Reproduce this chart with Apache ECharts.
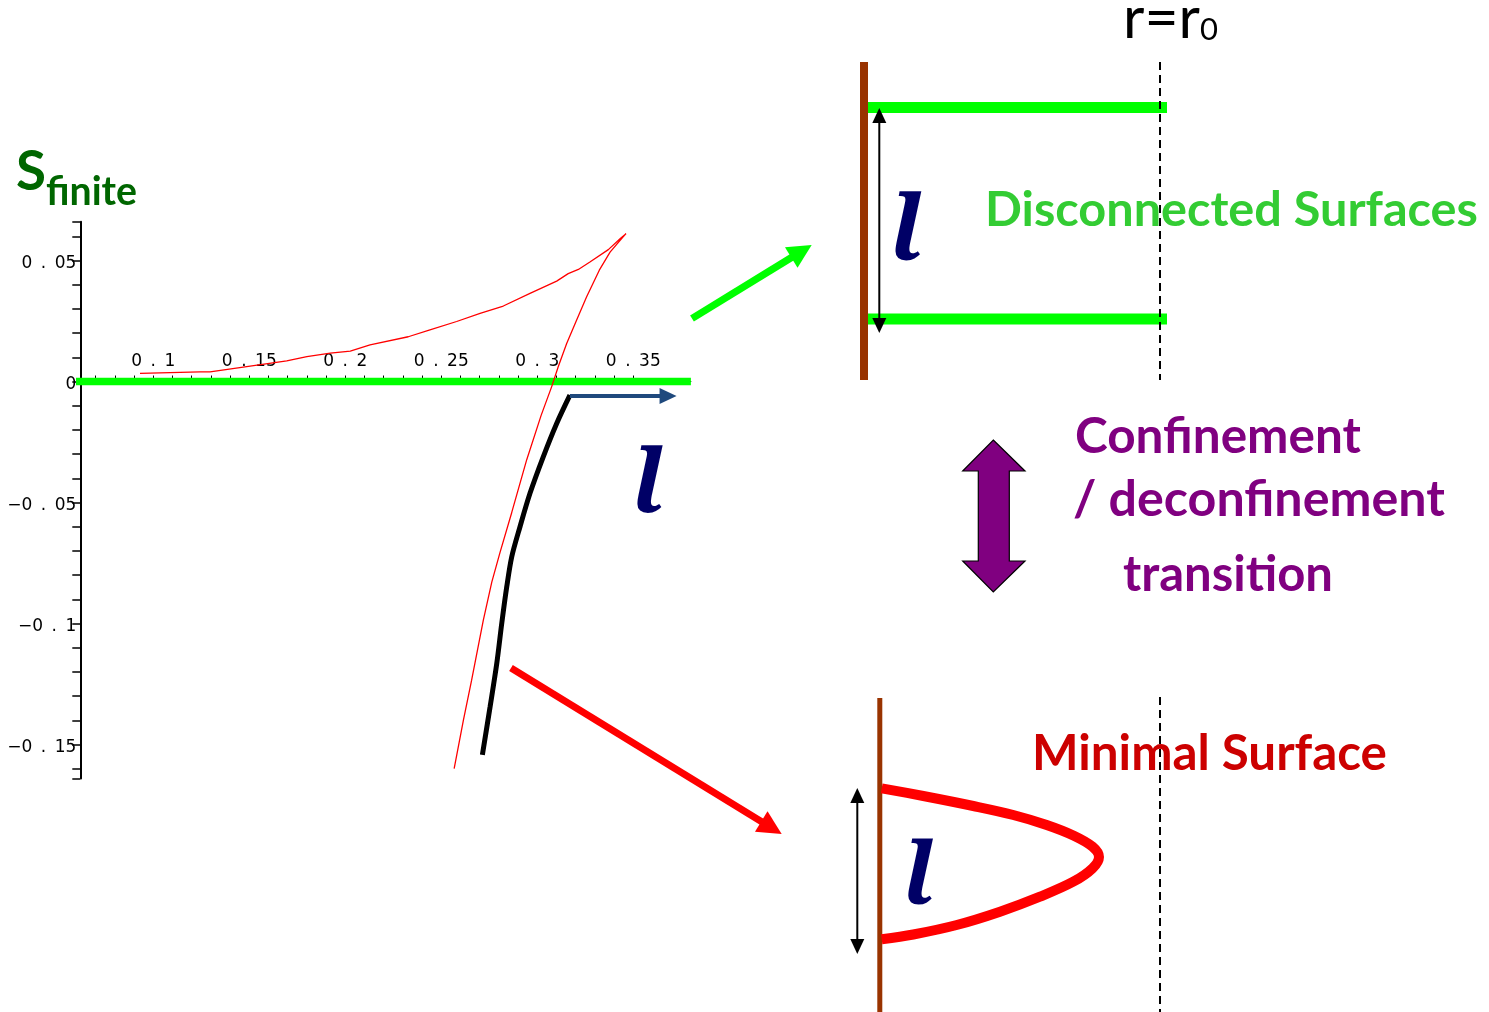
<!DOCTYPE html>
<html>
<head>
<meta charset="utf-8">
<title>S_finite versus l</title>
<script src="https://cdn.jsdelivr.net/npm/echarts@6/dist/echarts.min.js"></script>
<style>
  html, body { margin: 0; padding: 0; background: #ffffff; }
  #chart { width: 1489px; height: 1012px; }
</style>
</head>
<body>
<div id="chart"></div>
<script>
// ---- data: finite part of the entanglement entropy against strip width l ----
// red curve: both branches of the connected (minimal) surface, ordered along the curve
const redL = [0.0931, 0.1244, 0.1296, 0.1695, 0.1800, 0.1922, 0.2026, 0.2129, 0.2328, 0.2441,
              0.2580, 0.2702, 0.2823, 0.2962, 0.3101, 0.3161, 0.3214, 0.3274, 0.3370, 0.3431,
              0.3462, 0.3446, 0.3379, 0.3323, 0.3257, 0.3205, 0.3153, 0.3109, 0.3075, 0.3020,
              0.2945, 0.2867, 0.2806, 0.2763, 0.2719, 0.2658, 0.2615, 0.2567];
const redS = [0.0034, 0.0040, 0.0040, 0.0085, 0.0103, 0.0117, 0.0126, 0.0151, 0.0185, 0.0213,
              0.0248, 0.0282, 0.0312, 0.0364, 0.0415, 0.0446, 0.0463, 0.0494, 0.0545, 0.0590,
              0.0611, 0.0597, 0.0535, 0.0460, 0.0350, 0.0254, 0.0157, 0.0061, -0.0021, -0.0140,
              -0.0323, -0.0541, -0.0706, -0.0829, -0.0986, -0.1234, -0.1400, -0.1600];
// black curve: the physical (lowest) connected branch
const blackL = [0.3170, 0.3101, 0.3031, 0.2962, 0.2910, 0.2867, 0.2841, 0.2815, 0.2789, 0.2754, 0.2714];
const blackS = [-0.0056, -0.0173, -0.0311, -0.0462, -0.0600, -0.0724, -0.0848, -0.0999, -0.1165, -0.1345, -0.1543];
// green line: disconnected surfaces, S_finite = 0
const zeroL = [0.0578, 0.38];
const zeroS = [0, 0];
// arrow marking the direction of growing l
const arrowL = [0.3170, 0.3681];
const arrowS = [-0.0060, -0.0060];

// axis ticks and labels
const xTickValues = [0.07, 0.08, 0.09, 0.10, 0.11, 0.12, 0.13, 0.14, 0.15, 0.16, 0.17, 0.18, 0.19, 0.20,
                     0.21, 0.22, 0.23, 0.24, 0.25, 0.26, 0.27, 0.28, 0.29, 0.30, 0.31, 0.32, 0.33, 0.34, 0.35];
const xLabelValues = [0.1, 0.15, 0.2, 0.25, 0.3, 0.35];
const yTickValues = [-0.164, -0.16, -0.15, -0.14, -0.13, -0.12, -0.11, -0.10, -0.09, -0.08, -0.07, -0.06,
                     -0.05, -0.04, -0.03, -0.02, -0.01, 0, 0.01, 0.02, 0.03, 0.04, 0.05, 0.06, 0.066];
const yLabelValues = [-0.15, -0.1, -0.05, 0, 0.05];

const zip = (a, b) => a.map((v, i) => [v, b[i]]);

// tick labels in the spaced style "0 . 05"
function tickText(v) {
  const r = Math.round(v * 100) / 100;
  if (r === 0) return '0';
  let s = Math.abs(r).toString().replace('.', '\u2002.\u2002');
  return (r < 0 ? '\u2212' : '') + s;
}

// ---- text helpers ----
const mctx = document.createElement('canvas').getContext('2d');
function cssFont(o, size) {
  return (o.style || 'normal') + ' ' + (o.weight || 'normal') + ' ' + size + 'px ' + o.family;
}
function textEl(text, o) {
  mctx.font = cssFont(o, o.size);
  const m = mctx.measureText(text);
  const midY = o.baseline - (m.fontBoundingBoxAscent - m.fontBoundingBoxDescent) / 2;
  return {
    type: 'text', x: o.x, y: midY, z: o.z || 10, silent: true,
    style: {
      text: text, fill: o.color, align: o.align || 'left', verticalAlign: 'middle',
      fontStyle: o.style || 'normal', fontWeight: o.weight || 'normal',
      fontSize: o.size, fontFamily: o.family
    }
  };
}
function fitted(text, o) {
  mctx.font = cssFont(o, 100);
  o.size = 100 * o.width / mctx.measureText(text).width;
  return textEl(text, o);
}
// the italic strip-width symbol l, placed by the centre of its em box
function ell(x, y, size) {
  return {
    type: 'text', x: x, y: y, z: 10, silent: true,
    style: { text: 'l', fill: '#000066', fontFamily: 'Noto Serif', fontStyle: 'italic', fontWeight: 'bold',
             fontSize: size, align: 'left', verticalAlign: 'middle' }
  };
}

// ---- shape helpers for the schematic ----
function arrow(x1, y1, x2, y2, lw, headLen, headW, color, z) {
  const dx = x2 - x1, dy = y2 - y1, len = Math.hypot(dx, dy);
  const ux = dx / len, uy = dy / len, nx = -uy, ny = ux;
  const bx = x2 - ux * headLen, by = y2 - uy * headLen;
  return [
    { type: 'line', z: z, silent: true,
      shape: { x1: x1, y1: y1, x2: bx + ux, y2: by + uy },
      style: { stroke: color, lineWidth: lw, lineCap: 'butt' } },
    { type: 'polygon', z: z, silent: true,
      shape: { points: [[x2, y2], [bx + nx * headW / 2, by + ny * headW / 2], [bx - nx * headW / 2, by - ny * headW / 2]] },
      style: { fill: color } }
  ];
}
function doubleArrowV(x, yTop, yBot, color, z) {
  const hl = 15, hw = 14;
  return [
    { type: 'line', z: z, silent: true, shape: { x1: x, y1: yTop + hl - 1, x2: x, y2: yBot - hl + 1 },
      style: { stroke: color, lineWidth: 2 } },
    { type: 'polygon', z: z, silent: true, shape: { points: [[x, yTop], [x + hw / 2, yTop + hl], [x - hw / 2, yTop + hl]] },
      style: { fill: color } },
    { type: 'polygon', z: z, silent: true, shape: { points: [[x, yBot], [x + hw / 2, yBot - hl], [x - hw / 2, yBot - hl]] },
      style: { fill: color } }
  ];
}
function vLine(x, y1, y2, color, lw, dash, z) {
  return { type: 'line', z: z, silent: true, shape: { x1: x, y1: y1, x2: x, y2: y2 },
           style: { stroke: color, lineWidth: lw, lineDash: dash || null } };
}
function hLine(x1, x2, y, color, lw, z) {
  return { type: 'line', z: z, silent: true, shape: { x1: x1, y1: y, x2: x2, y2: y },
           style: { stroke: color, lineWidth: lw } };
}

const SANS_B = { family: 'Lato', weight: 'bold' };
const SANS_R = { family: 'Lato', weight: 'normal' };
const f = (base, extra) => Object.assign({}, base, extra);

const graphics = [
  // axis title S_finite
  fitted('S', f(SANS_B, { x: 16, baseline: 193, width: 30, color: '#006600' })),
  fitted('finite', f(SANS_B, { x: 46, baseline: 208, width: 91, color: '#006600' })),
  // l next to the arrow on the plot
  ell(633, 487, 88),

  // arrows from the plot to the two sketches
  ...arrow(692, 318.5, 811.7, 245, 7.3, 24, 24, '#00ff00', 20),
  ...arrow(511, 668, 781.7, 834, 7, 24, 24, '#ff0000', 20),

  // ---- disconnected surfaces sketch ----
  { type: 'rect', z: 20, silent: true, shape: { x: 860, y: 62, width: 8, height: 318 }, style: { fill: '#993300' } },
  hLine(868, 1167, 107.5, '#00ff00', 11, 20),
  hLine(868, 1167, 319, '#00ff00', 11, 20),
  ...doubleArrowV(879.3, 108, 333, '#000000', 22),
  ell(891, 233, 90),
  fitted('Disconnected Surfaces', f(SANS_B, { x: 985, baseline: 229, width: 493, color: '#33cc33' })),
  fitted('r=r', f(SANS_R, { x: 1123, baseline: 41.5, width: 77, color: '#000000' })),
  fitted('0', f(SANS_R, { x: 1200, baseline: 41.5, width: 18, color: '#000000' })),
  vLine(1160, 62, 380, '#000000', 2, [8, 5], 30),

  // ---- transition ----
  { type: 'polygon', z: 20, silent: true,
    shape: { points: [[993.3, 440], [1025, 471], [1009.3, 471], [1009.3, 561], [1025, 561], [993.3, 592],
                      [962.7, 561], [978.3, 561], [978.3, 471], [962.7, 471]] },
    style: { fill: '#800080', stroke: '#000000', lineWidth: 1.2 } },
  fitted('Confinement', f(SANS_B, { x: 1075, baseline: 456, width: 286, color: '#800080' })),
  fitted('/ deconfinement', f(SANS_B, { x: 1073, baseline: 519, width: 372, color: '#800080' })),
  fitted('transition', f(SANS_B, { x: 1123, baseline: 594, width: 210, color: '#800080' })),

  // ---- minimal surface sketch ----
  { type: 'rect', z: 20, silent: true, shape: { x: 877.3, y: 698, width: 5, height: 314 }, style: { fill: '#993300' } },
  { type: 'polyline', z: 21, silent: true,
    shape: { smooth: 0.35, points: [[881.7, 788.3], [923.3, 796], [973.3, 806], [1013.3, 815], [1046.7, 825],
                                    [1073.3, 835.5], [1092.5, 846.7], [1099, 857], [1092.5, 868.3], [1073.3, 881.7],
                                    [1040, 896.7], [1000, 911.7], [956.7, 925], [913.3, 934.5], [881.7, 939.3]] },
    style: { stroke: '#ff0000', lineWidth: 10, fill: null, lineJoin: 'round' } },
  ...doubleArrowV(857.3, 788, 954, '#000000', 22),
  ell(904, 879.5, 86),
  fitted('Minimal Surface', f(SANS_B, { x: 1032, baseline: 773, width: 355, color: '#cc0000' })),
  vLine(1160, 697, 1012, '#000000', 2, [8, 5], 30)
];

const tickLabelStyle = { fontFamily: 'DejaVu Sans', fontSize: 17, color: '#000000' };
const GRID_TOP = 221.8, GRID_H = 556.6, Y_MIN = -0.164, Y_MAX = 0.066;
// distance from the grid bottom up to S = 0, where the l axis is drawn
const zeroOffset = GRID_H * (0 - Y_MIN) / (Y_MAX - Y_MIN);

const option = {
  animation: false,
  backgroundColor: '#ffffff',
  grid: { left: 80.3, top: GRID_TOP, width: 610.6, height: GRID_H, containLabel: false },
  xAxis: {
    type: 'value', min: 0.062, max: 0.38, offset: -zeroOffset,
    axisLine: { onZero: false, lineStyle: { color: '#000000', width: 1 } },
    axisTick: { show: true, inside: true, length: 6, customValues: xTickValues, lineStyle: { color: '#000000', width: 1 } },
    axisLabel: Object.assign({ inside: true, margin: 11, customValues: xLabelValues, formatter: tickText }, tickLabelStyle),
    splitLine: { show: false }
  },
  yAxis: {
    type: 'value', min: Y_MIN, max: Y_MAX,
    axisLine: { onZero: false, lineStyle: { color: '#000000', width: 2 } },
    axisTick: { show: true, length: 8, customValues: yTickValues, lineStyle: { color: '#000000', width: 1.5 } },
    axisLabel: Object.assign({ margin: 4, customValues: yLabelValues, formatter: tickText,
                               verticalAlign: 'top', lineHeight: 7 }, tickLabelStyle),
    splitLine: { show: false }
  },
  graphic: graphics,
  series: [
    {
      name: 'disconnected', type: 'line', data: zip(zeroL, zeroS), symbol: 'none', clip: false,
      lineStyle: { color: '#00ff00', width: 7.3, cap: 'butt' }, silent: true, z: 3
    },
    {
      name: 'connected branch', type: 'line', data: zip(blackL, blackS), symbol: 'none', smooth: 0.3,
      lineStyle: { color: '#000000', width: 5, cap: 'butt' }, silent: true, z: 4
    },
    {
      name: 'l direction', type: 'line', data: zip(arrowL, arrowS), symbol: 'none',
      lineStyle: { color: '#1f497d', width: 4, cap: 'butt' }, silent: true, z: 4,
      markPoint: {
        silent: true, symbol: 'triangle', symbolSize: [16, 17], symbolRotate: -90,
        itemStyle: { color: '#1f497d' }, label: { show: false },
        data: [{ coord: [arrowL[1], arrowS[1]] }]
      }
    },
    {
      name: 'S_finite', type: 'line', data: zip(redL, redS), symbol: 'none',
      lineStyle: { color: '#ff0000', width: 1.3 }, silent: true, z: 5
    }
  ]
};

const chart = echarts.init(document.getElementById('chart'), null, { renderer: 'canvas' });
chart.setOption(option);
</script>
</body>
</html>
